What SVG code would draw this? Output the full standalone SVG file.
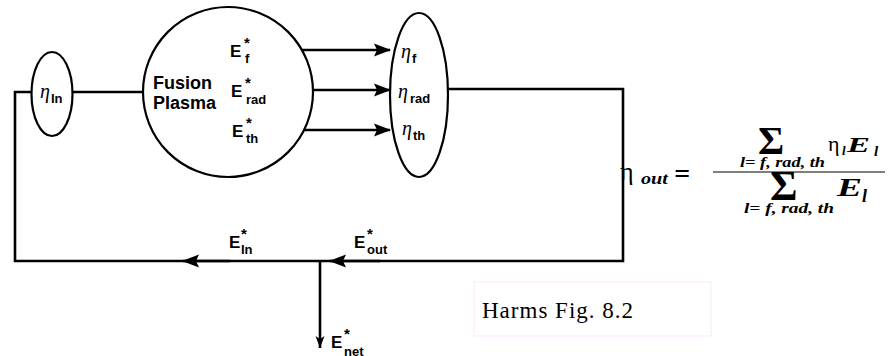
<svg xmlns="http://www.w3.org/2000/svg" width="889" height="356" viewBox="0 0 889 356">
<defs>
<style>
.ln{fill:none;stroke:#000;stroke-width:2.6;}
.nd{fill:#fff;stroke:#000;stroke-width:2.2;}
.sb{font-family:"Liberation Sans",Arial,sans-serif;font-weight:bold;fill:#000;}
.eta{font-family:"Liberation Serif","Times New Roman",serif;font-style:italic;fill:#000;}
.mi{font-family:"Liberation Serif","Times New Roman",serif;font-style:italic;font-weight:bold;fill:#000;}
.mr{font-family:"Liberation Serif","Times New Roman",serif;fill:#000;}
</style>
<marker id="ah" markerWidth="17" markerHeight="14" refX="16" refY="7" orient="auto" markerUnits="userSpaceOnUse" overflow="visible">
<path d="M0,0.5 L17,7 L0,13.5 L3,7 Z" fill="#000"/>
</marker>
<marker id="ahs" markerWidth="12" markerHeight="9" refX="12" refY="4.5" orient="auto" markerUnits="userSpaceOnUse" overflow="visible">
<path d="M0,0 L12,4.5 L0,9 L3,4.5 Z" fill="#000"/>
</marker>
</defs>
<rect width="889" height="356" fill="#fff"/>

<g id="connectors">
<polyline class="ln" points="32,92 15,92 15,261 623,261 623,89 448,89"/>
<line class="ln" x1="73" y1="92" x2="143" y2="92"/>
<line class="ln" x1="268" y1="50" x2="390" y2="50" marker-end="url(#ah)"/>
<line class="ln" x1="272" y1="90" x2="390" y2="90" marker-end="url(#ah)"/>
<line class="ln" x1="274" y1="130" x2="390" y2="130" marker-end="url(#ah)"/>
<line class="ln" x1="230" y1="261" x2="183" y2="261" marker-end="url(#ah)"/>
<line class="ln" x1="380" y1="261" x2="330" y2="261" marker-end="url(#ah)"/>
<line class="ln" x1="320" y1="261" x2="320" y2="348" stroke-width="2" marker-end="url(#ahs)"/>
</g>

<g id="eta-in">
<ellipse class="nd" cx="52" cy="94" rx="20.5" ry="42"/>
<text class="eta" x="40" y="98" font-size="20">η</text>
<text class="sb" x="51" y="103" font-size="13">In</text>
</g>

<g id="fusion-plasma">
<circle class="nd" cx="228" cy="92" r="85"/>
<text class="sb" x="153" y="89" font-size="18">Fusion</text>
<text class="sb" x="153" y="109" font-size="18">Plasma</text>
<text class="sb" x="230" y="57" font-size="17">E</text>
<text class="sb" x="244" y="48" font-size="15">*</text>
<text class="sb" x="245" y="63" font-size="13">f</text>
<text class="sb" x="231" y="97" font-size="17">E</text>
<text class="sb" x="245" y="88" font-size="15">*</text>
<text class="sb" x="246" y="104" font-size="13">rad</text>
<text class="sb" x="232" y="137" font-size="17">E</text>
<text class="sb" x="246" y="128" font-size="15">*</text>
<text class="sb" x="246" y="143" font-size="13">th</text>
</g>

<g id="eta-out">
<ellipse class="nd" cx="419" cy="95" rx="29" ry="82"/>
<text class="eta" x="401" y="58" font-size="20">η</text>
<text class="sb" x="412" y="63" font-size="13">f</text>
<text class="eta" x="398" y="98" font-size="20">η</text>
<text class="sb" x="410" y="103" font-size="13">rad</text>
<text class="eta" x="402" y="135" font-size="20">η</text>
<text class="sb" x="413" y="140" font-size="13">th</text>
</g>

<g id="labels-bottom">
<text class="sb" x="229" y="248" font-size="17">E</text>
<text class="sb" x="241" y="239" font-size="15">*</text>
<text class="sb" x="241" y="254" font-size="13">In</text>
<text class="sb" x="354" y="248" font-size="17">E</text>
<text class="sb" x="367" y="239" font-size="15">*</text>
<text class="sb" x="367" y="254" font-size="13">out</text>
<text class="sb" x="331" y="348" font-size="17">E</text>
<text class="sb" x="344" y="339" font-size="15">*</text>
<text class="sb" x="344" y="356" font-size="13">net</text>
</g>

<g id="formula">
<text class="mr" x="620" y="180" font-size="26">η</text>
<text class="mi" x="641" y="184" font-size="17" textLength="27" lengthAdjust="spacingAndGlyphs">out</text>
<text class="mi" x="674" y="183" font-size="28">=</text>
<line x1="713" y1="172" x2="885" y2="172" stroke="#555" stroke-width="1.5"/>
<text class="mr" x="758" y="154" font-size="40" font-weight="bold">Σ</text>
<text class="mi" x="740" y="167" font-size="15" textLength="85" lengthAdjust="spacingAndGlyphs">l= f, rad, th</text>
<text class="mr" x="828" y="151" font-size="22">η</text>
<text class="mi" x="842" y="155" font-size="13">l</text>
<text class="mi" x="847" y="152" font-size="22" textLength="23" lengthAdjust="spacingAndGlyphs">E</text>
<text class="mi" x="874" y="156" font-size="15">l</text>
<text class="mr" x="770" y="200" font-size="42" font-weight="bold">Σ</text>
<text class="mi" x="744" y="213" font-size="15" textLength="90" lengthAdjust="spacingAndGlyphs">l= f, rad, th</text>
<text class="mi" x="837" y="196" font-size="26" textLength="25" lengthAdjust="spacingAndGlyphs">E</text>
<text class="mi" x="862" y="202" font-size="18">l</text>
</g>

<g id="caption">
<rect x="474" y="282" width="237" height="54" fill="none" stroke="#fbe6fb" stroke-width="1"/>
<text class="mr" x="482" y="318" font-size="23" textLength="151" lengthAdjust="spacing">Harms Fig. 8.2</text>
</g>
</svg>
